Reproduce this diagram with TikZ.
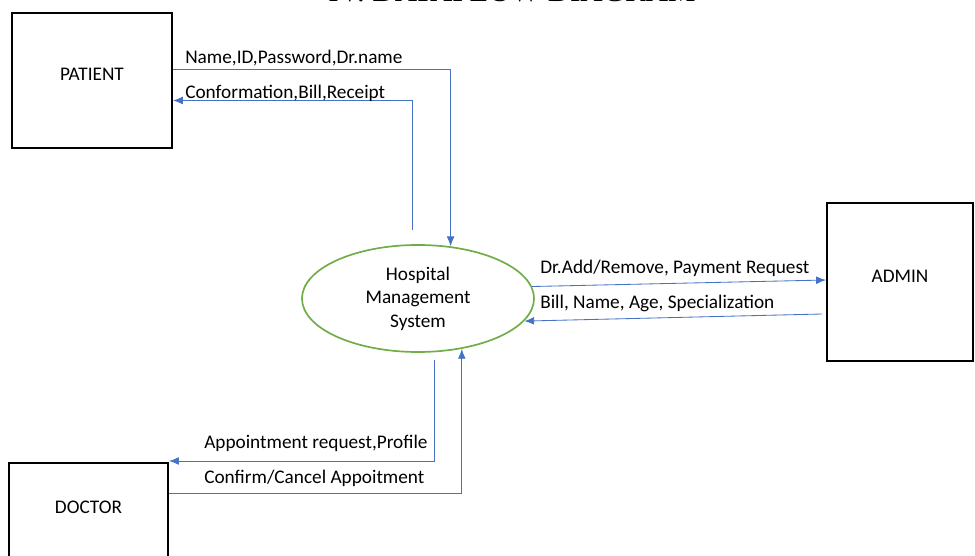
\documentclass[tikz,border=0pt]{standalone}
\usepackage{fontspec}
\setmainfont{Carlito}
\newfontfamily\titlefont{Liberation Serif}
\usetikzlibrary{arrows.meta,shapes.geometric,positioning}
\definecolor{flowblue}{HTML}{4472C4}
\definecolor{bubblegreen}{HTML}{70AD47}
\tikzset{
    entity/.style={draw=black, line width=1.4pt, rectangle, text height=0.31cm, text depth=0.3cm, font=\fontsize{13.7}{16}\selectfont},
    process/.style={draw=bubblegreen, line width=1.2pt, ellipse, minimum width=5.8cm, minimum height=2.675cm, align=center, font=\fontsize{13.7}{16.7}\selectfont},
    flow/.style={draw=flowblue, line width=0.6pt, -{Latex[length=7pt,width=5.5pt]}},
    flowlabel/.style={anchor=base west, inner sep=0pt, font=\fontsize{13.7}{16}\selectfont}
}

\begin{document}
\begin{tikzpicture}[x=0.025cm, y=-0.025cm]
        \useasboundingbox (0,0) rectangle (975,556);
        \node[font=\titlefont\fontsize{22}{24}\selectfont, anchor=base] (title) at (512,2) {IV. DATAFLOW DIAGRAM};

        % external entities and the process
        \node[entity, minimum width=4cm, minimum height=3.375cm] (patient) at (92,80.5) {PATIENT};
        \node[entity, minimum width=3.65cm, minimum height=3.95cm] (admin) at (900,282) {ADMIN};
        \node[entity, minimum width=3.975cm, minimum height=2.8cm, text depth=0.6cm] (doctor) at (88.5,519) {DOCTOR};
        \node[process] (hms) at (418,298.5) {Hospital\\Management\\System};

        % flows
        \draw[flow] ([shift={(0,-11.5)}]patient.east) -| (hms.58);
        \draw[flow] ([shift={(-6,-14)}]hms.north) |- ([shift={(0,20)}]patient.east);
        \draw[flow] (hms.6) -- ([shift={(0,-2)}]admin.west);
        \draw[flow] ([shift={(-4,32)}]admin.west) -- (hms.-12);
        \draw[flow] ([shift={(16,7)}]hms.south) |- ([shift={(0,-58)}]doctor.east);
        \draw[flow] ([shift={(0,-26)}]doctor.east) -| (hms.-49);

        % flow labels
        \node[flowlabel] (l1) at (185,64) {Name,ID,Password,Dr.name};
        \node[flowlabel] (l2) at (185,99) {Conformation,Bill,Receipt};
        \node[flowlabel] (l3) at (540,274) {Dr.Add/Remove, Payment Request};
        \node[flowlabel] (l4) at (540,309) {Bill, Name, Age, Specialization};
        \node[flowlabel] (l5) at (204,449) {Appointment request,Profile};
        \node[flowlabel] (l6) at (204,484) {Confirm/Cancel Appoitment};
\end{tikzpicture}
\end{document}
